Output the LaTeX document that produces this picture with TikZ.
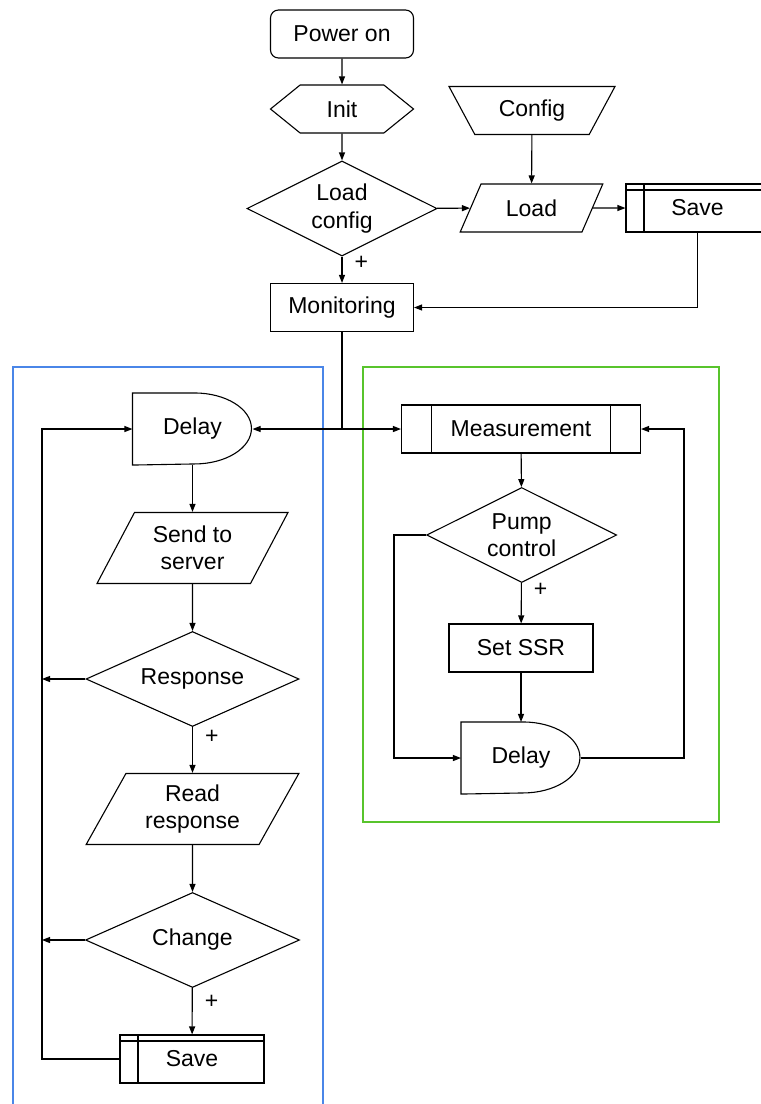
\documentclass[tikz,border=0pt]{standalone}
\usepackage{fontspec}
\setmainfont{Liberation Sans}
\usetikzlibrary{shapes.geometric,shapes.symbols,arrows.meta}
\definecolor{leftgroup}{RGB}{74,134,232}
\definecolor{rightgroup}{RGB}{88,196,44}

\begin{document}
\begin{tikzpicture}[
                    x=1pt, y=-1pt,
                    line width=1.1pt,
                    >={Triangle[length=8pt,width=6pt]},
                    every node/.style={inner sep=0pt, align=center, font=\fontsize{23}{27.5}\selectfont},
                    startbox/.style={draw, rectangle, rounded corners=8pt, minimum width=143pt, minimum height=48pt},
                    prepbox/.style={draw, signal, signal to=east and west, signal pointer angle=78, minimum width=143pt, minimum height=48pt},
                    decision/.style={draw, diamond, aspect=2, minimum width=#1, minimum height=95pt},
                    decision/.default=190pt,
                    procbox/.style={draw, rectangle, minimum width=143pt, minimum height=48pt},
                    iobox/.style={draw, trapezium, trapezium left angle=60, trapezium right angle=120, trapezium stretches=true, minimum width=#1, minimum height=71pt},
                    manualbox/.style={draw, trapezium, trapezium angle=55, shape border rotate=180, trapezium stretches=true, minimum width=167pt, minimum height=48pt},
                    storebox/.style={procbox, path picture={
                        \draw ([xshift=18pt]path picture bounding box.north west) -- ([xshift=18pt]path picture bounding box.south west)
                              ([yshift=-6pt]path picture bounding box.north west) -- ([yshift=-6pt]path picture bounding box.north east);}},
                    subbox/.style={procbox, minimum width=239pt, path picture={
                        \draw ([xshift=30pt]path picture bounding box.north west) -- ([xshift=30pt]path picture bounding box.south west)
                              ([xshift=-30pt]path picture bounding box.north east) -- ([xshift=-30pt]path picture bounding box.south east);}},
                    delaybox/.style={rectangle, minimum width=119pt, minimum height=71pt, append after command={
                        \pgfextra{\draw (\tikzlastnode.north west) -- ([xshift=62pt]\tikzlastnode.north west)
                              arc[start angle=90, end angle=-90, x radius=57pt, y radius=35.5pt] -- (\tikzlastnode.south west) -- cycle;}}},
                    plus/.style={right=12pt, pos=#1},
                ]
                \useasboundingbox (0,0) rectangle (761,1104);
                \draw[leftgroup, line width=2pt] (13,367) rectangle (323,1120);
                \draw[rightgroup, line width=2.2pt] (363,367) rectangle (719,822);

                \node[startbox] (power) at (342,34) {Power on};
                \node[prepbox] (init) at (342,109) {Init};
                \node[decision] (loadcfg) at (342,208.5) {Load\\config};
                \node[procbox] (monitor) at (342,307.5) {Monitoring};
                \node[manualbox] (config) at (532,110.5) {Config};
                \node[iobox=143pt, trapezium left angle=58, trapezium right angle=122, minimum height=48pt] (load) at (531.5,208) {Load};
                \node[storebox] (savecfg) at (697.5,208) {Save};

                \node[delaybox] (waitsend) at (192.5,429) {Delay};
                \node[iobox=191pt] (send) at (192.5,548) {Send to\\server};
                \node[decision=213pt] (resp) at (192.5,679) {Response};
                \node[iobox=213pt] (read) at (192.5,809) {Read\\response};
                \node[decision=214pt] (change) at (192.5,940) {Change};
                \node[storebox, minimum width=144pt] (savenew) at (192,1059) {Save};

                \node[subbox] (measure) at (521,429) {Measurement};
                \node[decision] (pump) at (521.7,535) {Pump\\control};
                \node[procbox, minimum width=144pt] (ssr) at (521,648) {Set SSR};
                \node[delaybox] (waitmeas) at (521,758) {Delay};

                \coordinate (split) at (342,429);
                \coordinate (backleft) at (42,429);
                \coordinate (skippump) at (394,758);
                \coordinate (backright) at (684,429);

                \draw[->] (power) -- (init);
                \draw[->] (init) -- (loadcfg);
                \draw[->] (loadcfg) -- node[plus=0.22] {+} (monitor);
                \draw[->] (config) -- (load);
                \draw[->] (loadcfg) -- (load);
                \draw[->] (load) -- (savecfg);
                \draw[->] (savecfg) |- (monitor);
                \draw (monitor) -- (split);
                \draw[->] (split) -- (waitsend);
                \draw[->] (split) -- (measure);

                \draw[->] (waitsend) -- (send);
                \draw[->] (send) -- (resp);
                \draw[->] (resp) -- node[plus=0.22] {+} (read);
                \draw[->] (read) -- (change);
                \draw[->] (change) -- node[plus=0.3] {+} (savenew);
                \draw[->] (resp) -- (resp -| backleft);
                \draw[->] (change) -- (change -| backleft);
                \draw[->] (savenew) -| (backleft) -- (waitsend);

                \draw[->] (measure) -- (pump);
                \draw[->] (pump) -- node[plus=0.17] {+} (ssr);
                \draw[->] (ssr) -- (waitmeas);
                \draw[->] (pump) -| (skippump) -- (waitmeas);
                \draw[->] (waitmeas) -| (backright) -- (measure);
                \end{tikzpicture}
\end{document}
